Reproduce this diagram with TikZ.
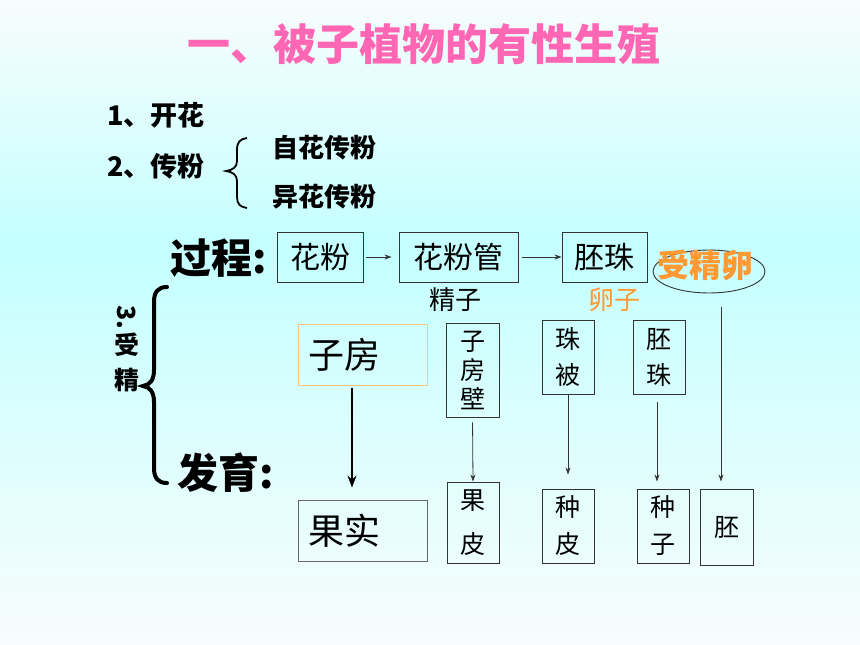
\documentclass[tikz,border=0pt]{standalone}
\usepackage{fontspec}
\setmainfont{Noto Sans CJK SC}
\usetikzlibrary{arrows.meta,shapes.geometric}
\definecolor{bgw}{HTML}{F8FCFC}
\definecolor{bgc}{HTML}{C4FFFF}
\definecolor{pinkt}{HTML}{FF66B3}
\definecolor{orng}{HTML}{FF9933}
\definecolor{obox}{HTML}{FFC080}
\definecolor{edge}{HTML}{333333}
\newcommand\fsz[1]{\fontsize{#1}{#1}\selectfont}
\tikzset{
  hbox/.style={draw=edge, line width=0.9pt, inner sep=0pt, font=\fsz{30}},
  vbox/.style={draw=edge, line width=0.9pt, inner sep=0pt, align=center},
  wbox/.style={draw=edge, line width=0.9pt, inner xsep=10pt, inner ysep=0pt, text width=109pt, align=left, minimum height=61pt, font=\fsz{36}},
  arr/.style={-{Stealth[length=7pt,width=5pt]}, line width=0.8pt, draw=edge},
  bigarr/.style={-{Stealth[length=12pt,width=9pt]}, line width=2.6pt, draw=black},
  lbl/.style={inner sep=0pt},
}
\begin{document}
\begin{tikzpicture}[x=1pt,y=-1pt]
\useasboundingbox (0,0) rectangle (860,645);
\shade[top color=bgw,bottom color=bgc] (0,0) rectangle (860,247.5);
\shade[top color=bgc,bottom color=bgw] (0,247) rectangle (860,645);

% title
\node[lbl, text=pinkt, font=\bfseries\fsz{43}] (title) at (424,44) {一、被子植物的有性生殖};

% 1, 2
\node[lbl, anchor=west, font=\bfseries\fsz{27}] (t1) at (107,115) {1、开花};
\node[lbl, anchor=west, font=\bfseries\fsz{27}] (t2) at (107,166) {2、传粉};
\node[lbl, anchor=west, font=\bfseries\fsz{26}] (t21) at (272,148) {自花传粉};
\node[lbl, anchor=west, font=\bfseries\fsz{26}] (t22) at (272,197) {异花传粉};
\draw[line width=1.8pt] (247,138) .. controls (240,139) and (237,142) .. (237,150) -- (237,161)
  .. controls (237,167) and (233,170) .. (226,171) .. controls (233,172) and (237,175) .. (237,181)
  -- (237,197) .. controls (237,204) and (240,207) .. (247,208);

% process row
\node[lbl, anchor=west, font=\bfseries\fsz{41}] (gc) at (170,258) {过程:};
\node[hbox, minimum width=86pt, minimum height=50pt] (hf) at (320,257) {花粉};
\node[hbox, minimum width=119pt, minimum height=50pt] (hfg) at (458.5,257) {花粉管};
\node[hbox, minimum width=85pt, minimum height=50pt] (pz) at (604.5,257) {胚珠};
\node[draw=edge, line width=0.9pt, ellipse, minimum width=112pt, minimum height=43pt, inner sep=0pt] (ell) at (709,271.5) {};
\node[lbl, text=orng, font=\bfseries\fsz{32}] (sjl) at (705,265) {受精卵};
\node[lbl, font=\fsz{26}] (jz) at (455,300) {精子};
\node[lbl, text=orng, font=\fsz{26}] (lz) at (614,300) {卵子};
\draw[arr] (hf.east) -- (hfg.west) [shorten <=3pt, shorten >=7pt];
\draw[arr] (hfg.east) -- (pz.west) [shorten <=4pt];

% 3. 受精 + brace
\node[lbl, rotate=-90, font=\bfseries\fsz{25}] (n3) at (127,317) {3.};
\node[lbl, font=\bfseries\fsz{25}] (nsh) at (127,345) {受};
\node[lbl, font=\bfseries\fsz{25}] (nj) at (127,380) {精};
\draw[line width=4pt, line cap=round] (167,287) .. controls (158,287) and (154,292) .. (154,302) -- (154,370)
  .. controls (154,380) and (150,385) .. (143,386) .. controls (150,387) and (154,392) .. (154,402)
  -- (154,468) .. controls (154,478) and (158,483) .. (167,483);
\node[lbl, anchor=west, font=\bfseries\fsz{41}] (fy) at (177,473) {发育:};

% development boxes
\node[wbox, draw=obox] (zf) at (362.5,354.5) {子房};
\node[wbox, draw=black!60] (gs) at (362.5,530.5) {果实};
\coordinate (za) at (352,388);
\draw[bigarr] (za) -- (za |- gs.north) [shorten >=12pt];

\node[vbox, minimum width=53pt, minimum height=94pt, font=\fontsize{25}{29}\selectfont] (zfb) at (472.5,370) {子\\房\\壁};
\node[vbox, minimum width=52pt, minimum height=81pt, font=\fontsize{25}{44}\selectfont] (gp) at (473,522.5) {果\\皮};
\draw[arr] (zfb.south) -- (gp.north) [shorten <=5pt];

\node[vbox, minimum width=52pt, minimum height=74pt, font=\fontsize{25}{36}\selectfont] (zb) at (568,357) {珠\\被};
\node[vbox, minimum width=52pt, minimum height=74pt, font=\fontsize{25}{37}\selectfont] (zp) at (568,526) {种\\皮};
\draw[arr] (zb.south) -- (zp.north) [shorten <=1pt, shorten >=14pt];

\node[vbox, minimum width=52pt, minimum height=74pt, font=\fontsize{25}{36}\selectfont] (pzv) at (659,357) {胚\\珠};
\node[vbox, minimum width=52pt, minimum height=74pt, font=\fontsize{25}{37}\selectfont] (zz) at (663,526) {种\\子};
\draw[arr] ([xshift=-2pt]pzv.south) -- ([xshift=-2pt]pzv.south |- zz.north) [shorten <=8pt, shorten >=7pt];

\node[vbox, minimum width=53pt, minimum height=76pt, font=\fsz{25}] (pei) at (726.5,527) {胚};
\coordinate (el) at (721,307);
\draw[arr] (el) -- (el |- pei.north) [shorten >=7pt];
\end{tikzpicture}
\end{document}
